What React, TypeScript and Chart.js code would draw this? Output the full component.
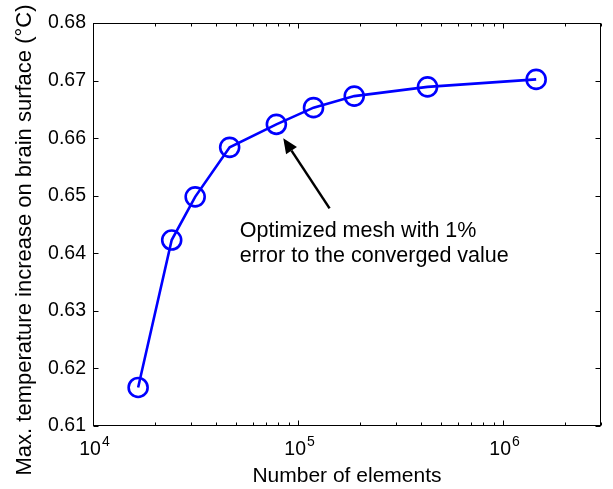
import React, { useEffect, useRef } from "react";
import { Chart, registerables } from "chart.js";

Chart.register(...registerables);

// ---- data ----
const elementCounts = [16600, 24200, 31500, 46400, 78400, 119000, 188000, 428000, 1450000];
const maxTemperatureRise = [0.6167, 0.6423, 0.6498, 0.6584, 0.6624, 0.6653, 0.6673, 0.6689, 0.6702];
const yTickValues = [0.61, 0.62, 0.63, 0.64, 0.65, 0.66, 0.67, 0.68];
const xDecadeExponents = [4, 5, 6];
const xRange = [1e4, 3e6];
const yRange = [0.61, 0.68];
const xTitle = "Number of elements";
const yTitle = "Max. temperature increase on brain surface (°C)";
const noteLines = ["Optimized mesh with 1%", "error to the converged value"];
const noteLineX = 52000;
const noteLineY = [0.6428, 0.6385];
const arrowTip = { x: 84700, y: 0.66 };
const arrowTail = { x: 142500, y: 0.6478 };

const FONT = '"Liberation Sans", Arial, Helvetica, sans-serif';

const matlabAxes = {
  id: "matlabAxes",
  afterDraw(chart: any) {
    const { ctx, chartArea: a, scales } = chart;
    const xs = scales.x;
    const ys = scales.y;
    ctx.save();
    ctx.strokeStyle = "#000";
    ctx.lineWidth = 1;
    const L = Math.round(a.left) + 0.5;
    const R = Math.round(a.right) - 0.5;
    const T = Math.round(a.top) + 0.5;
    const B = Math.round(a.bottom) - 0.5;
    ctx.strokeRect(L, T, R - L, B - T);
    ctx.beginPath();
    for (const v of yTickValues) {
      const py = Math.round(ys.getPixelForValue(v)) + 0.5;
      ctx.moveTo(L, py);
      ctx.lineTo(L + 5, py);
      ctx.moveTo(R, py);
      ctx.lineTo(R - 5, py);
    }
    for (const d of xDecadeExponents) {
      for (let m = 1; m <= 9; m++) {
        const v = m * Math.pow(10, d);
        if (v < xRange[0] || v > xRange[1]) continue;
        const len = m === 1 ? 5 : 3;
        const px = Math.round(xs.getPixelForValue(v)) + 0.5;
        ctx.moveTo(px, B);
        ctx.lineTo(px, B - len);
        ctx.moveTo(px, T);
        ctx.lineTo(px, T + len);
      }
    }
    ctx.stroke();

    // x tick labels 10^n
    ctx.fillStyle = "#000";
    ctx.textBaseline = "alphabetic";
    ctx.textAlign = "left";
    for (const d of xDecadeExponents) {
      const px = xs.getPixelForValue(Math.pow(10, d));
      ctx.font = `19.5px ${FONT}`;
      const w1 = ctx.measureText("10").width;
      ctx.font = `14px ${FONT}`;
      const w2 = ctx.measureText(String(d)).width;
      const x0 = px - (w1 + w2) / 2 + 1;
      ctx.font = `19.5px ${FONT}`;
      ctx.fillText("10", x0, B + 29);
      ctx.font = `14px ${FONT}`;
      ctx.fillText(String(d), x0 + w1 + 1, B + 20);
    }

    // y axis title (rotated)
    ctx.save();
    ctx.font = `22px ${FONT}`;
    ctx.textAlign = "center";
    ctx.textBaseline = "middle";
    ctx.translate(25, 240);
    ctx.rotate(-Math.PI / 2);
    ctx.fillText(yTitle, 0, 0);
    ctx.restore();

    // arrow
    const tx = xs.getPixelForValue(arrowTip.x);
    const ty = ys.getPixelForValue(arrowTip.y);
    const sx = xs.getPixelForValue(arrowTail.x);
    const sy = ys.getPixelForValue(arrowTail.y);
    const ang = Math.atan2(ty - sy, tx - sx);
    const headLen = 15;
    const headHalf = 6.5;
    const bx = tx - headLen * Math.cos(ang);
    const by = ty - headLen * Math.sin(ang);
    ctx.strokeStyle = "#000";
    ctx.lineWidth = 2.5;
    ctx.beginPath();
    ctx.moveTo(sx, sy);
    ctx.lineTo(bx, by);
    ctx.stroke();
    ctx.beginPath();
    ctx.moveTo(tx, ty);
    ctx.lineTo(bx + headHalf * Math.sin(ang), by - headHalf * Math.cos(ang));
    ctx.lineTo(bx - headHalf * Math.sin(ang), by + headHalf * Math.cos(ang));
    ctx.closePath();
    ctx.fill();

    // note text
    ctx.font = `21.5px ${FONT}`;
    ctx.textAlign = "left";
    ctx.textBaseline = "alphabetic";
    const nx = xs.getPixelForValue(noteLineX);
    noteLines.forEach((line, i) => {
      ctx.fillText(line, nx, ys.getPixelForValue(noteLineY[i]));
    });
    ctx.restore();
  },
};

export default function App() {
  const ref = useRef<HTMLCanvasElement | null>(null);
  useEffect(() => {
    if (!ref.current) return;
    Chart.defaults.font.family = FONT;
    Chart.defaults.color = "#000";
    const chart = new Chart(ref.current, {
      type: "line",
      data: {
        datasets: [
          {
            data: elementCounts.map((x, i) => ({ x, y: maxTemperatureRise[i] })),
            borderColor: "#0000ff",
            borderWidth: 2.6,
            tension: 0,
            pointRadius: 9.5,
            pointHoverRadius: 9.5,
            pointBorderWidth: 2.6,
            pointBorderColor: "#0000ff",
            pointBackgroundColor: "rgba(0,0,0,0)",
            fill: false,
          },
        ],
      },
      options: {
        animation: false,
        responsive: false,
        devicePixelRatio: 1,
        events: [],
        layout: { padding: { top: 23, right: 4, left: 0, bottom: 0 } },
        plugins: { legend: { display: false }, tooltip: { enabled: false } },
        scales: {
          x: {
            type: "logarithmic",
            min: xRange[0],
            max: xRange[1],
            grid: { display: false, drawTicks: false },
            border: { display: false },
            ticks: { display: false },
            title: {
              display: true,
              text: xTitle,
              font: { size: 21 },
              color: "#000",
              padding: { top: 0, bottom: 0 },
            },
            afterFit(scale: any) {
              scale.height = 63;
            },
          },
          y: {
            type: "linear",
            min: yRange[0],
            max: yRange[1],
            grid: { display: false, drawTicks: false },
            border: { display: false },
            ticks: {
              stepSize: 0.01,
              padding: 7,
              font: { size: 19.5 },
              color: "#000",
              callback: (v: any) => Number(v).toFixed(2),
            },
            title: { display: false },
            afterFit(scale: any) {
              scale.width = 93;
            },
          },
        },
      },
      plugins: [matlabAxes],
    });
    return () => chart.destroy();
  }, []);
  return (
    <div style={{ position: "absolute", left: 0, top: 0, width: 613, height: 489, background: "#fff" }}>
      <canvas ref={ref} width={613} height={489} style={{ display: "block" }} />
    </div>
  );
}
